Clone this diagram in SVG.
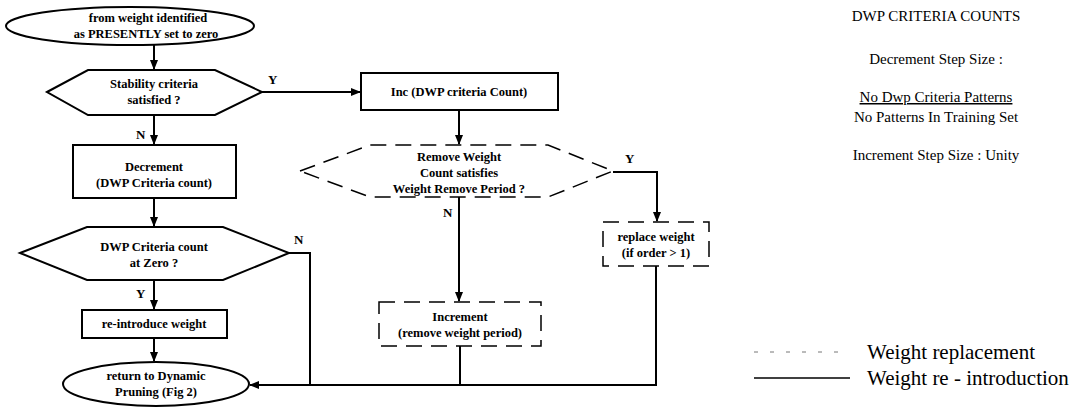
<svg xmlns="http://www.w3.org/2000/svg" width="1091" height="407" viewBox="0 0 1091 407">
<defs>
<style>
.s{fill:#fff;stroke:#000;stroke-width:2}
.d{fill:#fff;stroke:#000;stroke-width:1.5;stroke-dasharray:16 9}
.c{fill:none;stroke:#000;stroke-width:2}
.t{font-family:"Liberation Serif",serif;font-weight:bold;font-size:12.5px;fill:#000;text-anchor:middle}
.l{font-family:"Liberation Serif",serif;font-weight:bold;font-size:13px;fill:#000}
.r{font-family:"Liberation Serif",serif;font-size:15px;fill:#000;text-anchor:middle}
.g{font-family:"Liberation Serif",serif;font-size:21px;fill:#000}
</style>
<marker id="a" viewBox="0 0 10 10" refX="9" refY="5" markerWidth="5" markerHeight="5" orient="auto-start-reverse" markerUnits="strokeWidth">
<path d="M0,1 L10,5 L0,9 z" fill="#000"/>
</marker>
</defs>
<rect width="1091" height="407" fill="#fff"/>
<g id="connectors">
<path class="c" d="M154,45 V69" marker-end="url(#a)"/>
<path class="c" d="M262,92 H360" marker-end="url(#a)"/>
<path class="c" d="M154,115 V144" marker-end="url(#a)"/>
<path class="c" d="M154,198 V226" marker-end="url(#a)"/>
<path class="c" d="M289,253 H310 V385"/>
<path class="c" d="M154,280 V309" marker-end="url(#a)"/>
<path class="c" d="M154,338 V361" marker-end="url(#a)"/>
<path class="c" d="M656,266 V385 H250" marker-end="url(#a)"/>
<path class="c" d="M460,346 V385"/>
<path class="c" d="M459,110 V144" marker-end="url(#a)"/>
<path class="c" d="M459,197 V301" marker-end="url(#a)"/>
<path class="c" d="M613,172 H657 V221" marker-end="url(#a)"/>
</g>
<g id="start">
<ellipse class="s" cx="130" cy="26" rx="124" ry="19"/>
<text class="t" x="148" y="22">from weight identified</text>
<text class="t" x="146" y="38">as PRESENTLY set to zero</text>
</g>
<g id="stability">
<polygon class="s" points="47,92 88,70 215,70 262,92 215,115 88,115"/>
<text class="t" x="154" y="88">Stability criteria</text>
<text class="t" x="154" y="104">satisfied ?</text>
<text class="l" x="268" y="84">Y</text>
<text class="l" x="136" y="139">N</text>
</g>
<g id="decrement">
<rect class="s" x="73" y="145" width="163" height="53"/>
<text class="t" x="154" y="171">Decrement</text>
<text class="t" x="154" y="187">(DWP Criteria count)</text>
</g>
<g id="atzero">
<polygon class="s" points="20,253 87,227 223,227 289,253 223,280 87,280"/>
<text class="t" x="154" y="251">DWP Criteria count</text>
<text class="t" x="154" y="267">at Zero ?</text>
<text class="l" x="294" y="244">N</text>
<text class="l" x="136" y="298">Y</text>
</g>
<g id="reintroduce">
<rect class="s" x="82" y="310" width="145" height="28"/>
<text class="t" x="154" y="328">re-introduce weight</text>
</g>
<g id="return">
<ellipse class="s" cx="156" cy="384" rx="93" ry="22"/>
<text class="t" x="156" y="380">return to Dynamic</text>
<text class="t" x="156" y="396">Pruning (Fig 2)</text>
</g>
<g id="inc">
<rect class="s" x="361" y="73" width="197" height="37"/>
<text class="t" x="459" y="96">Inc (DWP criteria Count)</text>
</g>
<g id="removeweight">
<polygon class="d" points="300,171 370,145 548,145 613,171 548,197 370,197"/>
<text class="t" x="459" y="161">Remove Weight</text>
<text class="t" x="459" y="177">Count satisfies</text>
<text class="t" x="459" y="193">Weight Remove Period ?</text>
<text class="l" x="625" y="163">Y</text>
<text class="l" x="443" y="217">N</text>
</g>
<g id="replace">
<rect class="d" x="603" y="222" width="106" height="44"/>
<text class="t" x="656" y="241">replace weight</text>
<text class="t" x="656" y="257">(if order &gt; 1)</text>
</g>
<g id="increment">
<rect class="d" x="379" y="302" width="162" height="44"/>
<text class="t" x="460" y="321">Increment</text>
<text class="t" x="460" y="337">(remove weight period)</text>
</g>
<g id="info">
<text class="r" x="936" y="21">DWP CRITERIA COUNTS</text>
<text class="r" x="936" y="64">Decrement Step Size :</text>
<text class="r" x="936" y="102" text-decoration="underline">No Dwp Criteria Patterns</text>
<text class="r" x="936" y="122">No Patterns In Training Set</text>
<text class="r" x="936" y="160">Increment Step Size : Unity</text>
</g>
<g id="legend">
<line x1="754" y1="352" x2="850" y2="352" stroke="#777" stroke-width="1" stroke-dasharray="4 12"/>
<text class="g" x="867" y="359">Weight replacement</text>
<line x1="754" y1="378" x2="850" y2="378" stroke="#000" stroke-width="1.5"/>
<text class="g" x="867" y="385">Weight re - introduction</text>
</g>
</svg>
